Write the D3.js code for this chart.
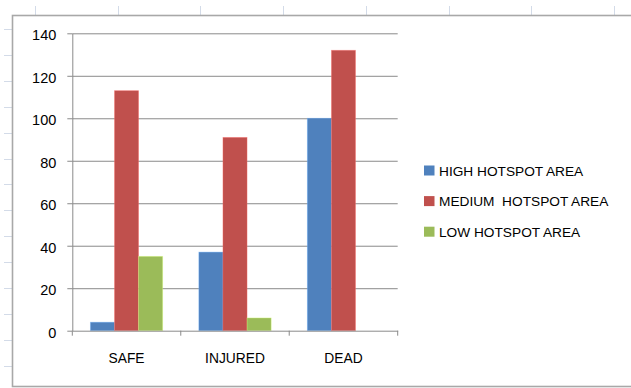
<!DOCTYPE html>
<html>
<head>
<meta charset="utf-8">
<script src="https://cdn.jsdelivr.net/npm/d3@7"></script>
<style>
  html, body { margin: 0; padding: 0; background: #fff; }
  svg { display: block; }
  text { font-family: "Liberation Sans", Arial, sans-serif; fill: #000; }
</style>
</head>
<body>
<svg id="chart" width="631" height="388"></svg>
<script>
// ---- data ----
const categories = ["SAFE", "INJURED", "DEAD"];
const seriesNames = ["HIGH HOTSPOT AREA", "MEDIUM  HOTSPOT AREA", "LOW HOTSPOT AREA"];
const highValues = [4, 37, 100];
const mediumValues = [113, 91, 132];
const lowValues = [35, 6, 0];
const yTickValues = [0, 20, 40, 60, 80, 100, 120, 140];
const seriesColors = ["#4F81BD", "#C0504D", "#9BBB59"];

const seriesValues = [highValues, mediumValues, lowValues];
const table = categories.map((c, i) => ({
  category: c,
  values: seriesNames.map((s, j) => ({ series: s, value: seriesValues[j][i], color: seriesColors[j] }))
}));

const svg = d3.select("#chart");
const W = 631, H = 388;
const FONT = "'Liberation Sans', Arial, sans-serif";

svg.append("rect").attr("width", W).attr("height", H).attr("fill", "#fff");

// ---- spreadsheet grid peeking around the chart ----
const sheetCols = d3.range(8).map(i => 35 + i * 82.7);
const sheetRows = d3.range(14).map(i => 29 + i * 25.9);
const sheet = svg.append("g").attr("stroke", "#d3dbe8").attr("stroke-width", 1);
sheet.selectAll("line.c").data(sheetCols).join("line")
  .attr("x1", d => Math.round(d) + 0.5).attr("x2", d => Math.round(d) + 0.5)
  .attr("y1", 6).attr("y2", 15);
sheet.selectAll("line.r").data(sheetRows).join("line")
  .attr("x1", 4).attr("x2", 12)
  .attr("y1", d => Math.round(d) + 0.5).attr("y2", d => Math.round(d) + 0.5);

// ---- chart area frame ----
svg.append("rect")
  .attr("x", 12.5).attr("y", 15.5).attr("width", 700).attr("height", 371)
  .attr("fill", "#fff").attr("stroke", "#a8a8a8").attr("stroke-width", 1.6);

// ---- plot ----
const plot = { left: 72.3, right: 397.7, top: 33.3, bottom: 330.7 };

const x = d3.scaleBand().domain(categories).range([plot.left, plot.right]).paddingInner(0).paddingOuter(0);
const xs = d3.scaleBand().domain(seriesNames).range([0, x.bandwidth()]).paddingInner(0).paddingOuter(0.75);
const y = d3.scaleLinear().domain([0, 140]).range([plot.bottom, plot.top]);

const axisColor = "#8a8a8a";

// gridlines
const grid = svg.append("g")
  .attr("transform", `translate(${plot.left},0)`)
  .call(d3.axisLeft(y).tickValues(yTickValues.filter(v => v > 0)).tickSize(-(plot.right - plot.left)).tickFormat(""));
grid.select(".domain").remove();
grid.selectAll(".tick line").attr("stroke", axisColor).attr("stroke-width", 1);

// bars
const groups = svg.append("g").selectAll("g").data(table).join("g")
  .attr("transform", d => `translate(${x(d.category)},0)`);
groups.selectAll("rect").data(d => d.values.filter(v => v.value > 0)).join("rect")
  .attr("x", d => xs(d.series))
  .attr("width", xs.bandwidth())
  .attr("y", d => y(d.value))
  .attr("height", d => y(0) - y(d.value))
  .attr("fill", d => d.color)
  .attr("stroke", d => d3.color(d.color).brighter(0.9))
  .attr("stroke-opacity", 0.45)
  .attr("stroke-width", 0.8);

// y axis with labels
const yAxis = svg.append("g")
  .attr("transform", `translate(${plot.left},0)`)
  .call(d3.axisLeft(y).tickValues(yTickValues).tickSizeInner(5).tickSizeOuter(0).tickPadding(11));
yAxis.select(".domain").attr("stroke", axisColor);
yAxis.selectAll(".tick line").attr("stroke", axisColor);
yAxis.selectAll(".tick text")
  .attr("font-family", FONT)
  .attr("font-size", 14.5).attr("fill", "#000").attr("dy", "0.45em");

// x axis
const xAxis = svg.append("g")
  .attr("transform", `translate(0,${plot.bottom})`)
  .call(d3.axisBottom(x).tickSize(0).tickPadding(23));
xAxis.select(".domain").attr("stroke", axisColor);
xAxis.selectAll(".tick text")
  .attr("font-family", FONT)
  .attr("font-size", 13.8).attr("fill", "#000");
const boundaries = categories.map(c => x(c)).concat([x(categories[categories.length - 1]) + x.bandwidth()]);
xAxis.selectAll("line.bound").data(boundaries).join("line")
  .attr("class", "bound")
  .attr("x1", d => d).attr("x2", d => d)
  .attr("y1", 0).attr("y2", 5)
  .attr("stroke", axisColor);

// legend
const legend = svg.append("g").attr("transform", "translate(424,165.5)");
const items = legend.selectAll("g").data(seriesNames).join("g")
  .attr("transform", (d, i) => `translate(0,${i * 30.6})`);
items.append("rect").attr("width", 10.5).attr("height", 10).attr("fill", (d, i) => seriesColors[i]);
items.append("text")
  .attr("x", 15).attr("y", 10)
  .attr("font-family", FONT)
  .attr("font-size", 13.7)
  .style("white-space", "pre")
  .text(d => d);
</script>
</body>
</html>
